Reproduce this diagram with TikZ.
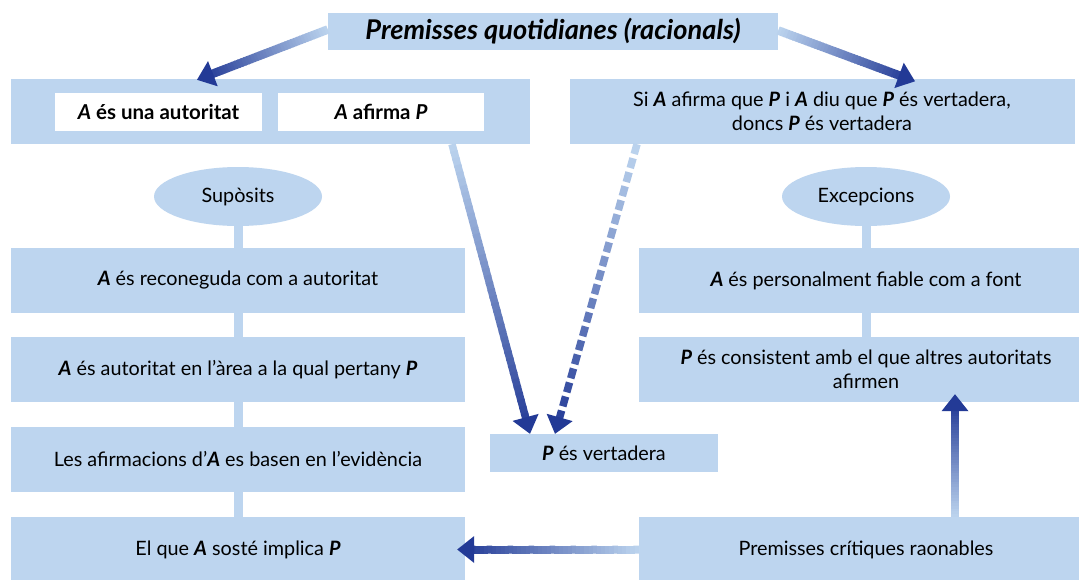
\documentclass[tikz,border=0pt]{standalone}
\usepackage{fontspec}
\setmainfont{Lato}
\usetikzlibrary{calc,shapes.geometric}
\definecolor{boxblue}{HTML}{BDD5EF}
\definecolor{darkblue}{HTML}{233A96}
\newcommand\bA{\textbf{\textit{A}}}
\newcommand\bP{\textbf{\textit{P}}}
\tikzset{
  box/.style={fill=boxblue, draw=none, inner sep=0pt, align=center,
    font=\fontsize{19.8}{24}\selectfont},
  whitebox/.style={fill=white, draw=none, inner sep=0pt, align=center,
    font=\fontsize{20.5}{24}\selectfont\bfseries},
  oval/.style={ellipse, fill=boxblue, draw=none, inner sep=0pt,
    minimum width=168pt, minimum height=59pt, font=\fontsize{19.8}{24}\selectfont},
  conn/.style={boxblue, line width=9pt},
}
% gradient arrow: #1 start, #2 tip, #3 shaft width
\newcommand\gradarrow[3]{%
  \coordinate (ga-hb) at ($(#2)!17pt!(#1)$);
  \coordinate (ga-se) at ($(#2)!14pt!(#1)$);
  \foreach \i in {0,...,39}{%
    \pgfmathsetmacro\ta{\i/40}%
    \pgfmathsetmacro\tb{min(1,(\i+1.3)/40)}%
    \pgfmathtruncatemacro\pc{2+93*\i/39}%
    \draw[line width=#3, darkblue!\pc!boxblue] ($(#1)!\ta!(ga-se)$) -- ($(#1)!\tb!(ga-se)$);
  }
  \fill[darkblue] (#2) -- ($(ga-hb)!13.5pt!90:(#2)$) -- ($(ga-hb)!13.5pt!-90:(#2)$) -- cycle;
}
% dashed gradient arrow
\newcommand\dashgradarrow[3]{%
  \coordinate (ga-hb) at ($(#2)!17pt!(#1)$);
  \coordinate (ga-se) at ($(#2)!14pt!(#1)$);
  \foreach \i in {0,...,19}{%
    \pgfmathsetmacro\ta{\i/19.7}%
    \pgfmathsetmacro\tb{(\i+0.7)/19.7}%
    \pgfmathtruncatemacro\pc{2+93*\i/19}%
    \draw[line width=#3, darkblue!\pc!boxblue] ($(#1)!\ta!(ga-se)$) -- ($(#1)!\tb!(ga-se)$);
  }
  \fill[darkblue] (#2) -- ($(ga-hb)!13.5pt!90:(#2)$) -- ($(ga-hb)!13.5pt!-90:(#2)$) -- cycle;
}
\begin{document}
\begin{tikzpicture}[x=1pt, y=-1pt]
\clip (0,0) rectangle (1079,579);
\fill[white] (0,0) rectangle (1079,579);

% title
\node[box, minimum width=450pt, minimum height=37pt,
  font=\fontsize{27.2}{30}\selectfont\bfseries\itshape] (title) at (553,31.5)
  {Premisses quotidianes (racionals)};

% top boxes
\node[box, minimum width=519pt, minimum height=65pt] (tl) at (270.5,111.5) {};
\node[whitebox, minimum width=207pt, minimum height=38pt] (wb1) at (158.5,112)
  {\textit{A} és una autoritat};
\node[whitebox, minimum width=206pt, minimum height=38pt] (wb2) at (381,112)
  {\textit{A} afirma \textit{P}};
\node[box, minimum width=505pt, minimum height=65pt] (tr) at (822,111.5)
  {Si \bA{} afirma que \bP{} i \bA{} diu que \bP{} és vertadera,\\ doncs \bP{} és vertadera};

% ovals
\node[oval] (sup) at (238,196.5) {Supòsits};
\node[oval] (exc) at (866,196.5) {Excepcions};

% left column
\node[box, minimum width=454pt, minimum height=65pt] (L1) at (238,280.5)
  {\bA{} és reconeguda com a autoritat};
\node[box, minimum width=454pt, minimum height=65pt] (L2) at (238,369.5)
  {\bA{} és autoritat en l’àrea a la qual pertany \bP};
\node[box, minimum width=454pt, minimum height=65pt] (L3) at (238,459.5)
  {Les afirmacions d’\bA{} es basen en l’evidència};
\node[box, minimum width=454pt, minimum height=65pt] (L4) at (238,549.5)
  {El que \bA{} sosté implica \bP};

% right column
\node[box, minimum width=454pt, minimum height=65pt] (R1) at (866,280.5)
  {\bA{} és personalment fiable com a font};
\node[box, minimum width=454pt, minimum height=65pt] (R2) at (866,369.5)
  {\bP{} és consistent amb el que altres autoritats\\ afirmen};
\node[box, minimum width=454pt, minimum height=65pt] (PC) at (866,549.5)
  {Premisses crítiques raonables};

% middle
\node[box, minimum width=228pt, minimum height=38pt] (PV) at (604,453)
  {\bP{} és vertadera};

% vertical connectors
\draw[conn] (sup) -- (L1);
\draw[conn] (L1) -- (L2);
\draw[conn] (L2) -- (L3);
\draw[conn] (L3) -- (L4);
\draw[conn] (exc) -- (R1);
\draw[conn] (R1) -- (R2);

% arrows
\coordinate (a1s) at ([yshift=2pt]title.west);
\coordinate (a1e) at ([xshift=-73.5pt,yshift=-1pt]tl.north);
\gradarrow{a1s}{a1e}{8.5pt}
\coordinate (a2s) at ([yshift=1pt]title.east);
\coordinate (a2e) at ([xshift=93pt,yshift=-2.5pt]tr.north);
\gradarrow{a2s}{a2e}{8.5pt}
\coordinate (a3s) at ([xshift=181.5pt]tl.south);
\coordinate (a3e) at ([xshift=-74pt]PV.north);
\gradarrow{a3s}{a3e}{7.5pt}
\coordinate (a4s) at ([xshift=-185pt]tr.south);
\coordinate (a4e) at ([xshift=-49pt]PV.north);
\dashgradarrow{a4s}{a4e}{7.5pt}
\coordinate (a5s) at ([xshift=89pt]PC.north);
\coordinate (a5e) at ([xshift=89pt,yshift=8pt]R2.south);
\gradarrow{a5s}{a5e}{8pt}
\coordinate (a6s) at (PC.west);
\coordinate (a6e) at ([xshift=-8pt]L4.east);
\gradarrow{a6s}{a6e}{8pt}
\end{tikzpicture}
\end{document}
